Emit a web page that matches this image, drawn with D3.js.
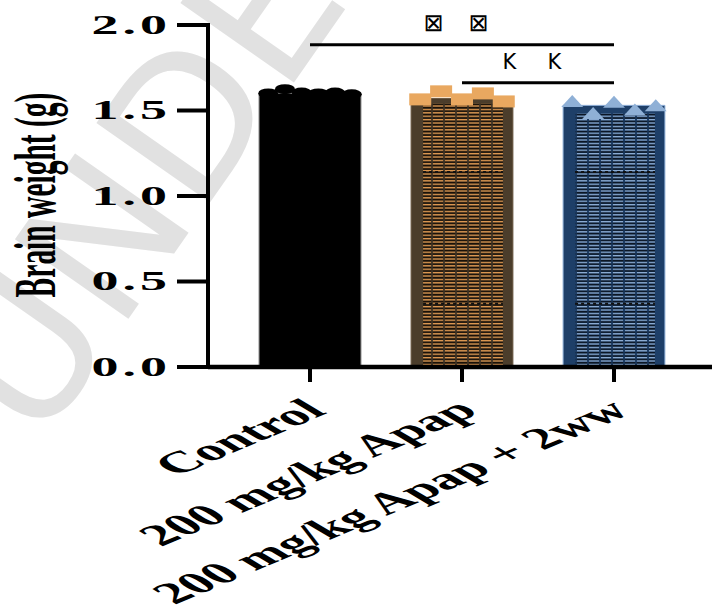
<!DOCTYPE html>
<html lang="en">
<head>
<meta charset="UTF-8">
<title>Brain weight</title>
<style>
  body { margin: 0; background: #fff; }
  svg { display: block; }
  text { font-family: "Liberation Serif", "Times New Roman", serif; font-weight: bold; fill: #000; }
  .wm { font-family: "DejaVu Sans", sans-serif; font-weight: normal; fill: #e1e1e1; }
  .sig { font-family: "DejaVu Sans", sans-serif; font-weight: normal; }
  .ns { vector-effect: non-scaling-stroke; }
</style>
</head>
<body>
<script src="https://d3js.org/d3.v7.min.js"></script>
<script>
// data
const groups = ["Control", "200 mg/kg Apap", "200 mg/kg Apap + 2ww"];
const means = [1.60, 1.57, 1.53];
const controlPts = [1.60, 1.625, 1.605, 1.60, 1.605, 1.595];
const apapPts = [1.565, 1.612, 1.565, 1.60, 1.553];
const wwPts = [1.55, 1.48, 1.545, 1.50, 1.525];
const yTicks = [0, 0.5, 1.0, 1.5, 2.0];
const sigFrom = [0, 1];
const sigTo = [2, 2];
const sigY = [1.885, 1.663];
const sigMarks = ["⊠", "K"];

const W = 712, H = 606;
const sx = 2; // the picture is stretched twice as wide as tall

const svg = d3.select("body").append("svg")
    .attr("width", W)
    .attr("height", H);

// watermark behind everything
svg.append("text")
    .attr("class", "wm")
    .attr("transform", "translate(38,448) rotate(-55)")
    .attr("font-size", 190)
    .text("UNDER REVIEW");

const defs = svg.append("defs");

function stripes(id, base, light, dark) {
    const p = defs.append("pattern")
        .attr("id", id)
        .attr("patternUnits", "userSpaceOnUse")
        .attr("width", 6)
        .attr("height", 3.4);
    p.append("rect").attr("width", 6).attr("height", 3.4).attr("fill", base);
    p.append("rect").attr("x", 0.5).attr("y", 0).attr("width", 5).attr("height", 1.3).attr("fill", light);
    p.append("rect").attr("x", 0.3).attr("y", 1.6).attr("width", 5.4).attr("height", 1.5).attr("fill", dark);
}
stripes("hatchApap", "#4b3d2b", "#e39b52", "#150e06");
stripes("hatchWw", "#1e3f68", "#8fb0d8", "#0a1320");

// chart drawn in unstretched units, then scaled horizontally
const g = svg.append("g").attr("transform", `scale(${sx},1)`);

const y = d3.scaleLinear().domain([0, 2]).range([367, 25]);
const x = d3.scaleBand().domain(groups).range([117, 345])
    .paddingInner(0.33).paddingOuter(0.165);
const cx = d => x(d) + x.bandwidth() / 2;

const pts = [controlPts, apapPts, wwPts];
const frame = ["#000", "#4b3d2b", "#1e3f68"];
const edge = ["#777", "#6b5a44", "#8fb0d8"];
const fills = ["#000", "url(#hatchApap)", "url(#hatchWw)"];

// bars
groups.forEach((grp, i) => {
    const x0 = x(grp), bw = x.bandwidth();
    g.append("rect")
        .attr("x", x0).attr("y", y(means[i]))
        .attr("width", bw).attr("height", y(0) - y(means[i]))
        .attr("fill", frame[i])
        .attr("stroke", edge[i]).attr("stroke-width", 1).attr("class", "ns");
    if (i > 0) {
        const top = y(means[i]) + (i === 1 ? 5 : 8);
        g.append("rect")
            .attr("x", x0 + 6).attr("y", top)
            .attr("width", bw - 11).attr("height", y(0) - top)
            .attr("fill", fills[i]);
        [1.14, 0.37].forEach(v => {
            g.append("line")
                .attr("x1", x0 + 6).attr("x2", x0 + bw - 5)
                .attr("y1", y(v)).attr("y2", y(v))
                .attr("stroke", "#111").attr("stroke-width", 2)
                .attr("stroke-dasharray", "3,3").attr("class", "ns");
        });
    }
});

// points
const spread = x.bandwidth() * 0.82;
groups.forEach((grp, i) => {
    const n = pts[i].length;
    pts[i].forEach((v, j) => {
        const px = cx(grp) - spread / 2 + spread * j / (n - 1);
        const py = y(v);
        if (i === 0) {
            g.append("circle").attr("cx", px).attr("cy", py).attr("r", 5).attr("fill", "#000");
        } else if (i === 1) {
            g.append("rect").attr("x", px - 5.5).attr("y", py - 6)
                .attr("width", 11).attr("height", 12).attr("fill", "#e9a860");
        } else {
            g.append("path")
                .attr("d", `M${px},${py - 7}L${px + 5.5},${py + 5}L${px - 5.5},${py + 5}Z`)
                .attr("fill", "#8fb0d6");
        }
    });
});

// axes
const axisX0 = 88.5;
g.append("line").attr("class", "ns")
    .attr("x1", 104).attr("x2", 104).attr("y1", y(2) - 2).attr("y2", y(0) + 2)
    .attr("stroke", "#000").attr("stroke-width", 4);
g.append("line").attr("class", "ns")
    .attr("x1", 104).attr("x2", W / sx).attr("y1", y(0)).attr("y2", y(0))
    .attr("stroke", "#000").attr("stroke-width", 4.5);

yTicks.forEach(t => {
    g.append("line").attr("class", "ns")
        .attr("x1", axisX0).attr("x2", 104).attr("y1", y(t)).attr("y2", y(t))
        .attr("stroke", "#000").attr("stroke-width", 4);
    g.append("text")
        .attr("x", 85.5).attr("y", y(t) + 9)
        .attr("text-anchor", "end")
        .attr("font-size", 27)
        .attr("letter-spacing", 2)
        .text(t.toFixed(1));
});

groups.forEach(grp => {
    g.append("line").attr("class", "ns")
        .attr("x1", cx(grp)).attr("x2", cx(grp)).attr("y1", y(0)).attr("y2", y(0) + 15)
        .attr("stroke", "#000").attr("stroke-width", 4);
    g.append("text")
        .attr("transform", `translate(${cx(grp) + 9},413) rotate(-40)`)
        .attr("text-anchor", "end")
        .attr("font-size", 30)
        .text(grp);
});

g.append("text")
    .attr("transform", `translate(27.5,195) rotate(-90)`)
    .attr("text-anchor", "middle")
    .attr("font-size", 29.5)
    .text("Brain weight (g)");

// significance lines
sigFrom.forEach((f, i) => {
    const a = cx(groups[f]), b = cx(groups[sigTo[i]]);
    g.append("line").attr("class", "ns")
        .attr("x1", a).attr("x2", b).attr("y1", y(sigY[i])).attr("y2", y(sigY[i]))
        .attr("stroke", "#000").attr("stroke-width", 3);
    const mid = (a + b) / 2 * sx - 6;
    [-22.5, 22.5].forEach(off => {
        svg.append("text")
            .attr("class", "sig")
            .attr("x", mid + off).attr("y", y(sigY[i]) - 14)
            .attr("text-anchor", "middle")
            .attr("font-size", i === 0 ? 24 : 21)
            .attr("font-weight", i === 0 ? "normal" : 300)
            .attr("fill", "#222")
            .text(sigMarks[i]);
    });
});
</script>
</body>
</html>
